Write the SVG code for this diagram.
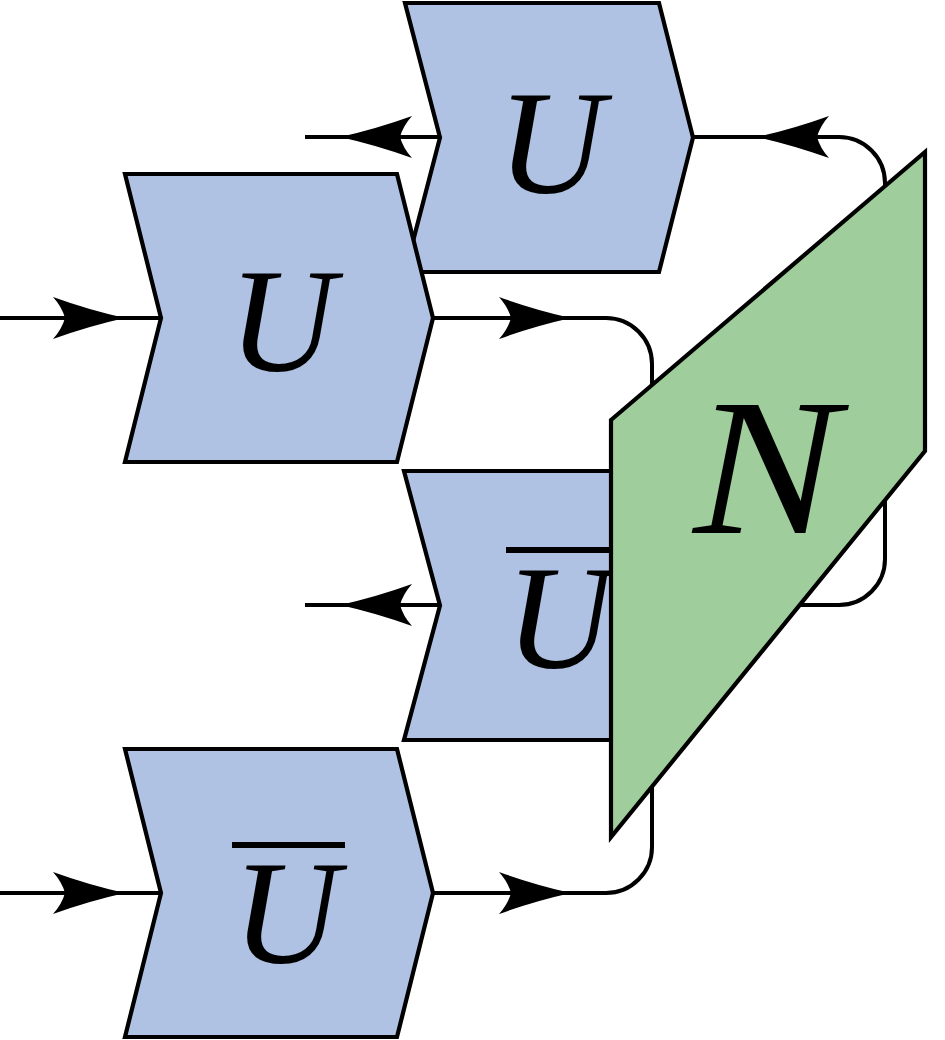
<svg xmlns="http://www.w3.org/2000/svg" width="945" height="1040" viewBox="0 0 945 1040">
  <style>
    .chev { fill: #B0C2E3; stroke: #000; stroke-width: 4.2; stroke-linejoin: miter; }
    .net { fill: #9FCE9C; stroke: #000; stroke-width: 4.2; stroke-linejoin: miter; }
    .wire { fill: none; stroke: #000; stroke-width: 4; }
    .bar { stroke: #000; stroke-width: 6; }
    text { fill: #000; text-anchor: middle; font-style: italic; font-family: 'Liberation Serif', 'Times New Roman', serif; }
  </style>
  <defs>
    <path id="ah" d="M0,0 Q-36,-8 -72,-21 Q-63,-11 -60,0 Q-63,11 -72,21 Q-36,8 0,0 Z" fill="#000"/>
  </defs>

  <g id="connectors">
    <path class="wire" d="M305,137 H440"/>
    <path class="wire" d="M693,137 H839 A46,46 0 0 1 885,183 V260"/>
    <path class="wire" d="M0,318 H161"/>
    <path class="wire" d="M433,318 H606 A46,46 0 0 1 652,364 V440"/>
    <path class="wire" d="M305,605 H441"/>
    <path class="wire" d="M770,605 H839 A46,46 0 0 0 885,559 V470"/>
    <path class="wire" d="M0,893 H161"/>
    <path class="wire" d="M433,893 H606 A46,46 0 0 0 652,847 V770"/>
    <use href="#ah" transform="translate(340,137) rotate(180)"/>
    <use href="#ah" transform="translate(757,137) rotate(180)"/>
    <use href="#ah" transform="translate(125,318)"/>
    <use href="#ah" transform="translate(571,318)"/>
    <use href="#ah" transform="translate(340,605) rotate(180)"/>
    <use href="#ah" transform="translate(125,893)"/>
    <use href="#ah" transform="translate(571,893)"/>
  </g>

  <g id="node-U-top">
    <polygon class="chev" points="405,3 659,3 693,137.5 659,272 405,272 440,137.5"/>
    <text x="551" y="193" font-size="148">U</text>
  </g>

  <g id="node-Ubar-back">
    <polygon class="chev" points="404,471 658,471 692,605.5 658,740 404,740 440,605.5"/>
    <line class="bar" x1="506" y1="550" x2="622" y2="550"/>
    <text x="559" y="668" font-size="148">U</text>
  </g>

  <g id="node-U-front">
    <polygon class="chev" points="125,174 397,174 433,318 397,462 125,462 161,318"/>
    <text x="282" y="371" font-size="148">U</text>
  </g>

  <g id="node-Ubar-front">
    <polygon class="chev" points="125,749 397,749 433,893 397,1037 125,1037 161,893"/>
    <line class="bar" x1="232" y1="845" x2="345" y2="845"/>
    <text x="286" y="963" font-size="148">U</text>
  </g>

  <g id="node-N">
    <polygon class="net" points="611,420 925,152 925,451 611,837"/>
    <text transform="translate(766,533) scale(1.12,1)" x="0" y="0" font-size="195">N</text>
  </g>
</svg>
